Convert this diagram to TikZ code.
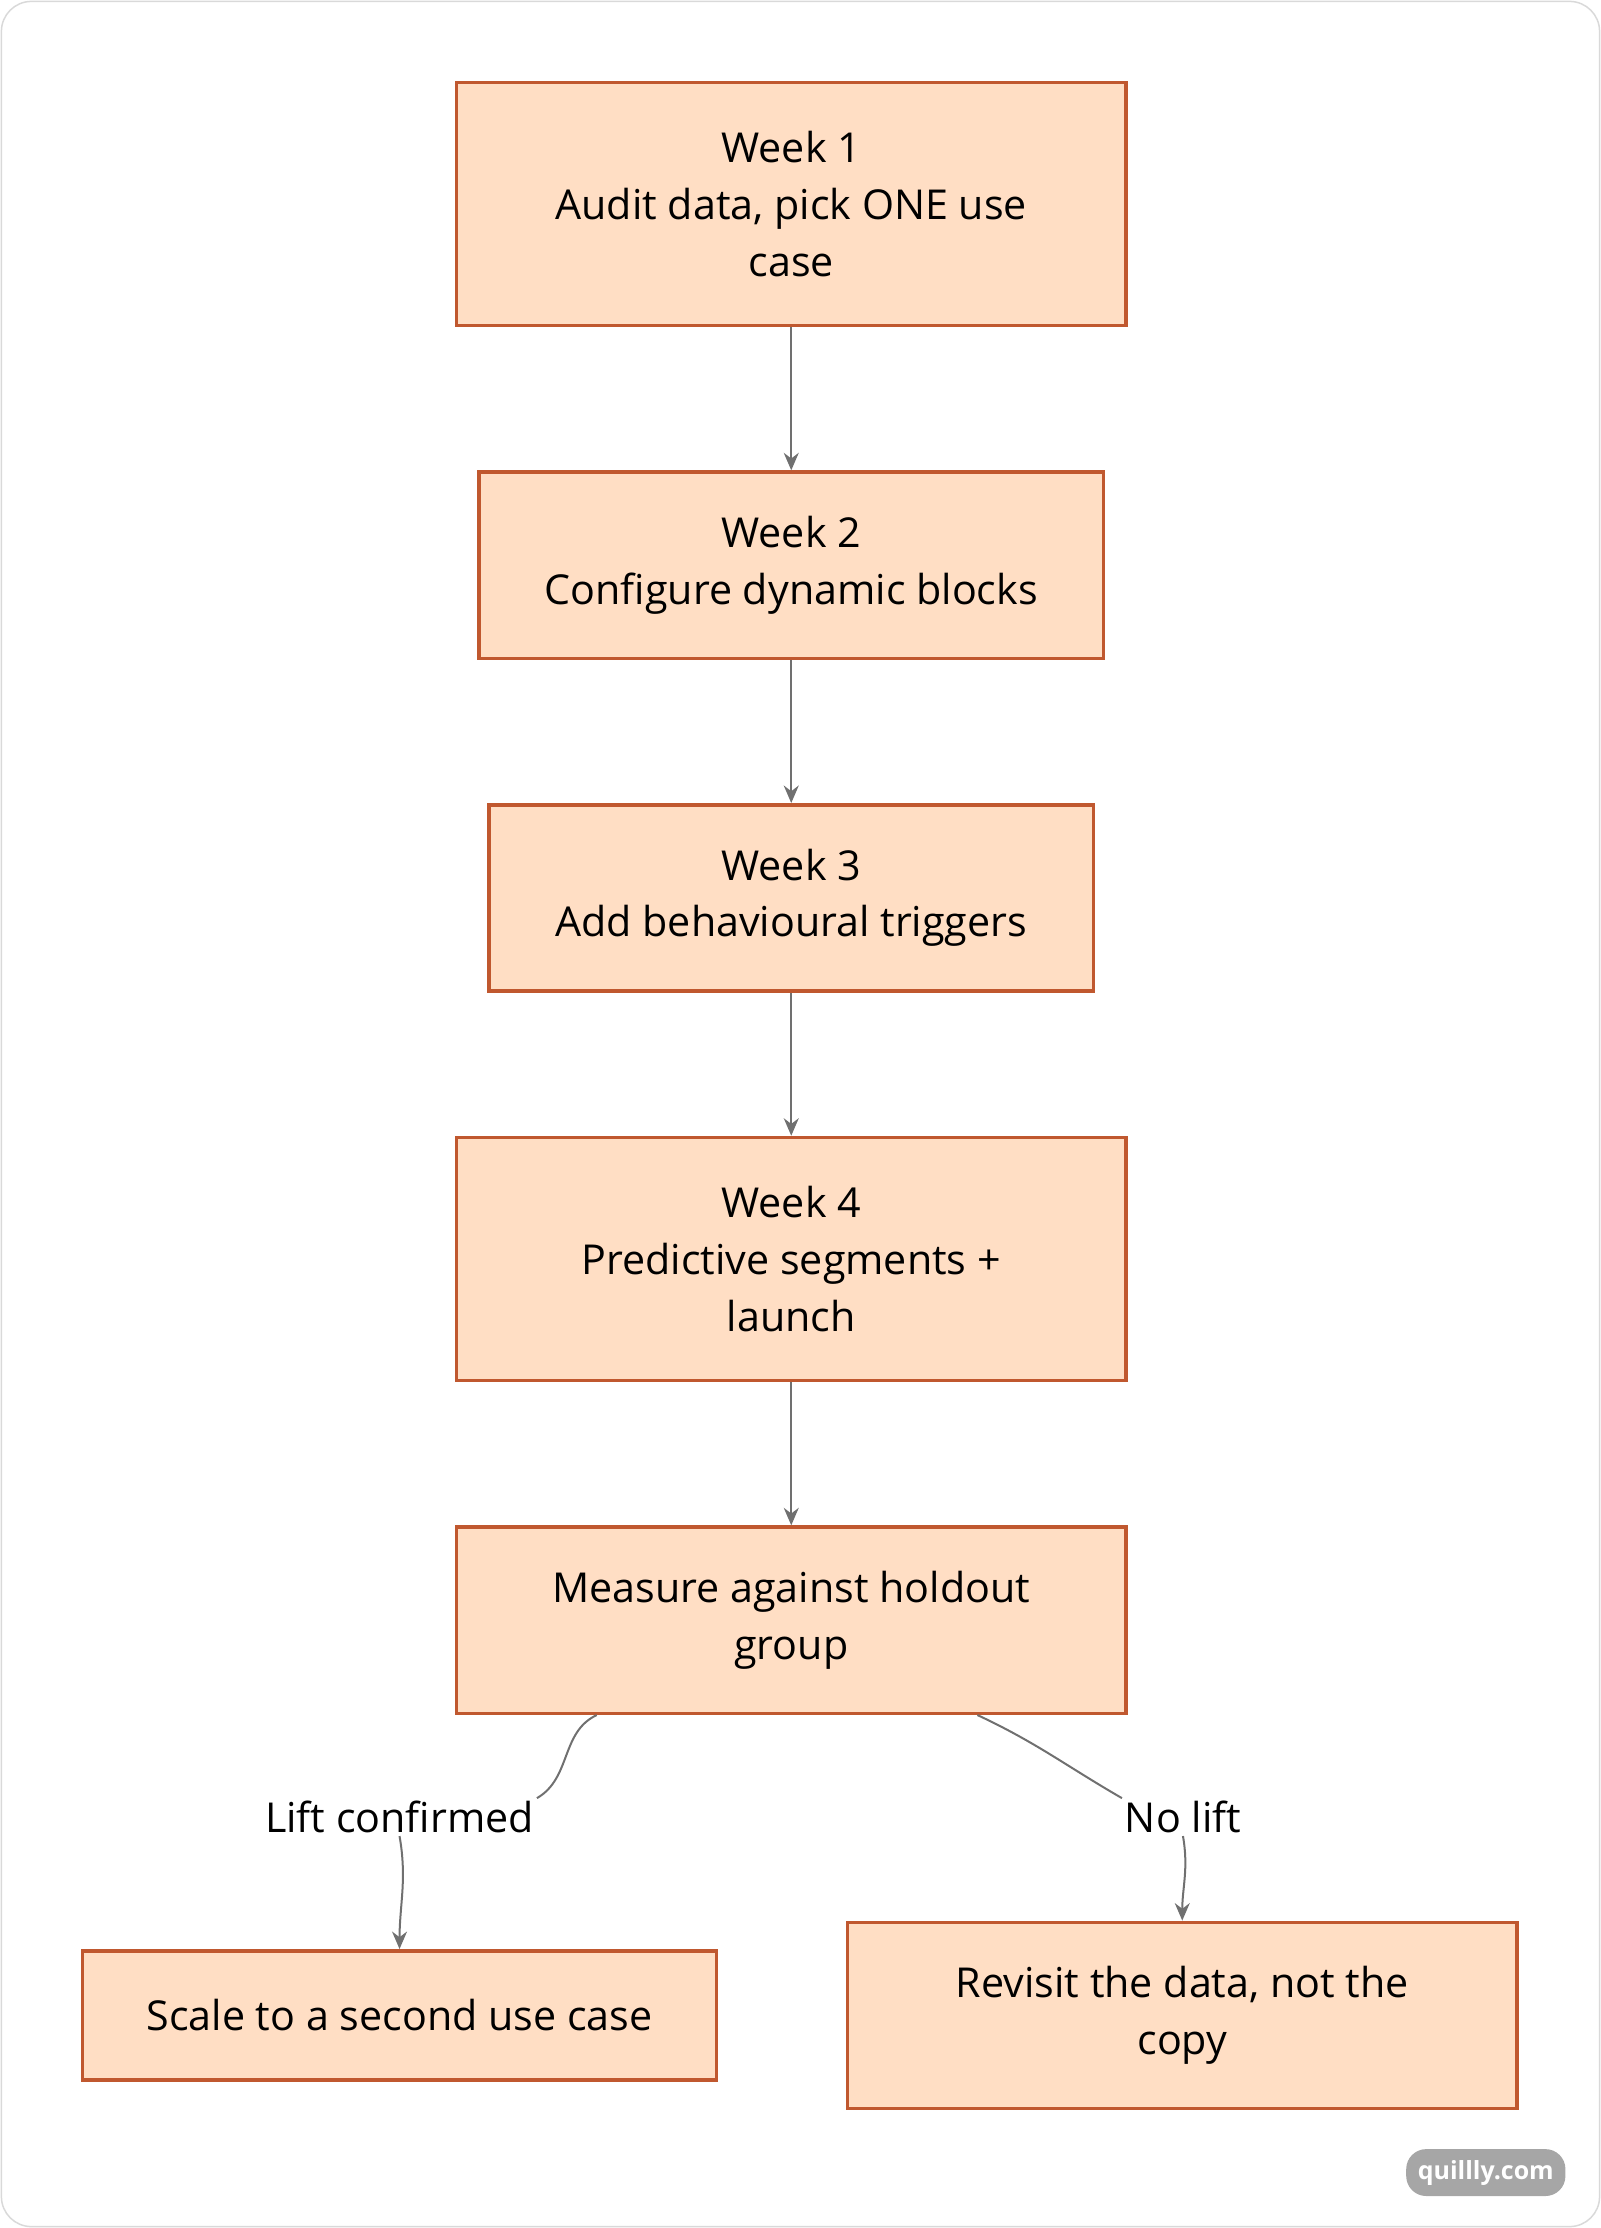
\documentclass[tikz,border=0pt]{standalone}
\usepackage{fontspec}
\setmainfont{Open Sans}
\usetikzlibrary{arrows.meta}
\definecolor{boxfill}{HTML}{FFDEC4}
\definecolor{boxline}{HTML}{C0582F}
\definecolor{linkgray}{HTML}{707070}
\tikzset{
  stepbox/.style={draw=boxline, fill=boxfill, line width=1.4pt, align=center,
    font=\fontsize{16.5}{22.7}\selectfont, inner sep=0pt},
  link/.style={draw=linkgray, line width=0.8pt, -{Stealth[length=7pt,width=6pt]}},
  linkplain/.style={draw=linkgray, line width=0.8pt},
  tag/.style={font=\fontsize{16.5}{22.7}\selectfont, inner sep=1pt}
}
\begin{document}
\begin{tikzpicture}[x=0.02cm, y=-0.02cm]
\useasboundingbox (0,0) rectangle (1126,1567);
\draw[gray!30, line width=0.6pt, rounded corners=12pt] (1,1) rectangle (1125,1566);

% steps
\node[stepbox, minimum width=9.42cm, minimum height=3.42cm] (w1) at (556.5,143.5) {Week 1\\Audit data, pick ONE use\\case};
\node[stepbox, minimum width=8.78cm, minimum height=2.62cm] (w2) at (556.5,397.5) {Week 2\\Configure dynamic blocks};
\node[stepbox, minimum width=8.5cm, minimum height=2.62cm] (w3) at (556.5,631.5) {Week 3\\Add behavioural triggers};
\node[stepbox, minimum width=9.42cm, minimum height=3.42cm] (w4) at (556.5,885.5) {Week 4\\Predictive segments +\\launch};
\node[stepbox, minimum width=9.42cm, minimum height=2.62cm] (m) at (556.5,1139.5) {Measure against holdout\\group};
\node[stepbox, minimum width=8.92cm, minimum height=1.82cm] (s) at (281,1417.5) {Scale to a second use case};
\node[stepbox, minimum width=9.42cm, minimum height=2.62cm] (r) at (831.5,1417.5) {Revisit the data, not the\\copy};

% labels
\node[tag] (lift) at (281,1278) {Lift confirmed};
\node[tag] (nolift) at (832,1278) {No lift};

% connectors
\draw[link] (w1) -- (w2);
\draw[link] (w2) -- (w3);
\draw[link] (w3) -- (w4);
\draw[link] (w4) -- (m);
\draw[linkplain] (m.206.6) to[out=-155, in=30] (lift.north east);
\draw[link] (lift.south) to[out=-80, in=90] (s.north);
\draw[linkplain] (m.333.4) to[out=-25, in=150] (nolift.north west);
\draw[link] (nolift.south) to[out=-80, in=90] (r.north);

% badge
\node[fill=gray!70, text=white, rounded corners=8pt, minimum width=2.24cm, minimum height=0.66cm,
  font=\fontsize{10}{12}\selectfont\bfseries] (badge) at (1045,1528) {quillly.com};
\end{tikzpicture}
\end{document}
